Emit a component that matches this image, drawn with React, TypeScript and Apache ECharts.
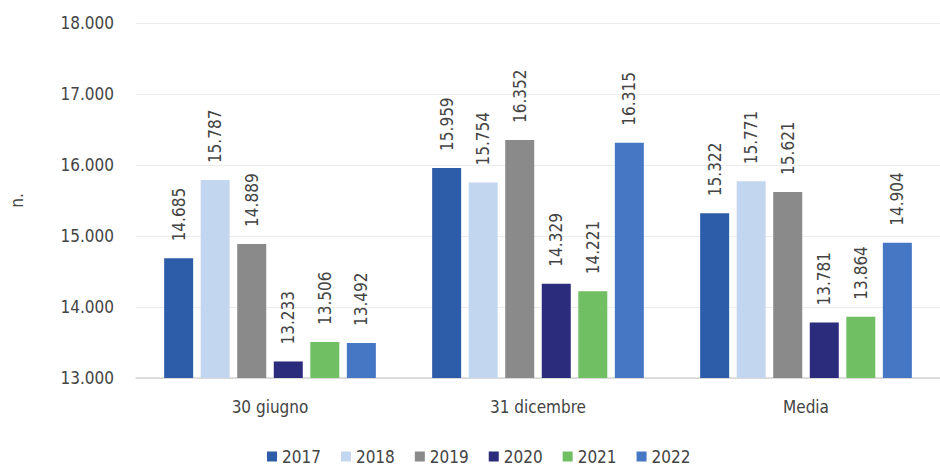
import React, { useEffect, useRef } from "react";
import * as echarts from "echarts";

const categories = ["30 giugno", "31 dicembre", "Media"];
const years = ["2017", "2018", "2019", "2020", "2021", "2022"];
const v2017 = [14685, 15959, 15322];
const v2018 = [15787, 15754, 15771];
const v2019 = [14889, 16352, 15621];
const v2020 = [13233, 14329, 13781];
const v2021 = [13506, 14221, 13864];
const v2022 = [13492, 16315, 14904];
const seriesValues = [v2017, v2018, v2019, v2020, v2021, v2022];
const colors = ["#2d5ca9", "#c3d6ef", "#8a8a8a", "#2b2d7c", "#70bf62", "#4677c4"];
const yMin = 13000;
const yMax = 18000;
const yInterval = 1000;

const FONT = '"DejaVu Sans Condensed", "Liberation Sans", sans-serif';
const TEXT = "#444444";
const FS = 17;

function fmt(v: number): string {
  const s = String(Math.round(v));
  return s.replace(/\B(?=(\d{3})+(?!\d))/g, ".");
}

export default function App() {
  const ref = useRef<HTMLDivElement>(null);
  useEffect(() => {
    if (!ref.current) return;
    const chart = echarts.init(ref.current, null, { renderer: "svg" });
    chart.setOption({
      animation: false,
      backgroundColor: "#ffffff",
      textStyle: { fontFamily: FONT },
      grid: { left: 125, right: -13, top: 23, bottom: 88, containLabel: false },
      legend: {
        bottom: -4,
        left: 262,
        itemWidth: 10,
        itemHeight: 10,
        itemGap: 20,
        icon: "rect",
        textStyle: { fontFamily: FONT, fontSize: FS, color: TEXT },
        data: years,
      },
      xAxis: {
        type: "category",
        data: categories,
        axisLine: { show: true, lineStyle: { color: "#d4d4d4", width: 1.5 } },
        axisTick: { show: false },
        axisLabel: { fontFamily: FONT, fontSize: FS, color: TEXT, margin: 20 },
      },
      yAxis: {
        type: "value",
        min: yMin,
        max: yMax,
        interval: yInterval,
        name: "n.",
        nameLocation: "middle",
        nameGap: 111,
        nameRotate: 90,
        nameTextStyle: { fontFamily: FONT, fontSize: FS, color: TEXT },
        axisLine: { show: false },
        axisTick: { show: false },
        splitLine: { lineStyle: { color: "#ececec", width: 1 } },
        axisLabel: { fontFamily: FONT, fontSize: FS, color: TEXT, margin: 22, formatter: (v: number) => fmt(v) },
      },
      series: years.map((y, i) => ({
        name: y,
        type: "bar",
        data: seriesValues[i],
        barWidth: 29,
        barGap: "26%",
        itemStyle: { color: colors[i] },
        label: {
          show: true,
          position: "top",
          distance: 17,
          rotate: 90,
          align: "left",
          verticalAlign: "middle",
          fontFamily: FONT,
          fontSize: FS,
          color: TEXT,
          formatter: (p: any) => fmt(p.value),
        },
      })),
    });
    return () => chart.dispose();
  }, []);
  return (
    <div
      ref={ref}
      style={{ position: "fixed", left: 0, top: 0, width: 940, height: 466, background: "#fff" }}
    />
  );
}
